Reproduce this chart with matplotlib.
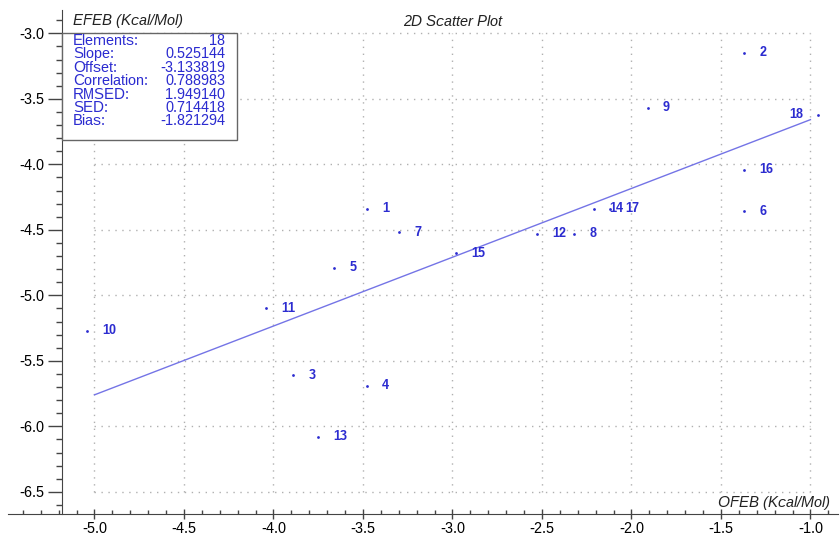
import numpy as np
import matplotlib.pyplot as plt
from matplotlib.patches import Rectangle

plt.rcParams['font.family'] = ['Liberation Sans', 'DejaVu Sans']
plt.rcParams['text.hinting'] = 'native'
plt.rcParams['text.hinting_factor'] = 1

# point ids and values
ids = ['1', '2', '3', '4', '5', '6', '7', '8', '9', '10', '11', '12', '13', '14', '15', '16', '17', '18']
ofeb = [-3.48, -1.37, -3.89, -3.48, -3.66, -1.37, -3.30, -2.32, -1.91, -5.04, -4.04, -2.53, -3.75, -2.21, -2.98, -1.37, -2.12, -0.96]
efeb = [-4.34, -3.15, -5.61, -5.69, -4.79, -4.36, -4.52, -4.53, -3.57, -5.27, -5.10, -4.53, -6.08, -4.34, -4.68, -4.04, -4.34, -3.62]

stat_names = ['Elements:', 'Slope:', 'Offset:', 'Correlation:', 'RMSED:', 'SED:', 'Bias:']
stat_values = ['18', '0.525144', '-3.133819', '0.788983', '1.949140', '0.714418', '-1.821294']
slope = 0.525144
offset = -3.133819

xticks = [-5.0, -4.5, -4.0, -3.5, -3.0, -2.5, -2.0, -1.5, -1.0]
yticks = [-3.0, -3.5, -4.0, -4.5, -5.0, -5.5, -6.0, -6.5]

W, H = 840, 534
blue = '#2c2cd0'
line_blue = '#7474e6'


def px(x, y):
    return x / W, 1 - y / H


fig = plt.figure(figsize=(W / 100, H / 100), dpi=100)
ax = fig.add_axes([8 / W, 20 / H, 830 / W, 504 / H])
ax.set_xlim(-5.483, -0.846)
ax.set_ylim(-6.669, -2.822)

# dotted grid only inside the tick range
ax.vlines(xticks, yticks[-1], yticks[0], colors='#b0b0b0', linestyles=(0, (1, 4)), linewidth=1)
ax.hlines(yticks, xticks[0], xticks[-1], colors='#b0b0b0', linestyles=(0, (1, 4)), linewidth=1)

# regression line
lx = np.array([-5.0, -1.0])
ax.plot(lx, slope * lx + offset, color=line_blue, linewidth=1)

ax.scatter(ofeb, efeb, s=4, color=blue, zorder=3, linewidths=0)
for i, x, y in zip(ids, ofeb, efeb):
    if i == '18':
        ax.annotate(i, (x, y), xytext=(-10, 0), textcoords='offset points',
                    va='center', ha='right', color=blue, fontsize=9.5, fontweight='bold')
    else:
        ax.annotate(i, (x, y), xytext=(11, 0), textcoords='offset points',
                    va='center', ha='left', color=blue, fontsize=9.5, fontweight='bold')

for s in ['top', 'right', 'left', 'bottom']:
    ax.spines[s].set_visible(False)
ax.spines['left'].set_visible(True)
ax.spines['left'].set_position(('data', -5.18))
ax.spines['bottom'].set_visible(True)
ax.spines['left'].set_color('#444444')
ax.spines['bottom'].set_color('#444444')

ax.set_xticks(xticks)
ax.set_yticks(yticks)
ax.set_xticklabels([f'{t:.1f}' for t in xticks])
ax.set_yticklabels([f'{t:.1f}' for t in yticks])
ax.set_xticks(np.arange(-5.4, -0.85, 0.1), minor=True)
ax.set_yticks(np.arange(-6.6, -2.85, 0.1), minor=True)
ax.tick_params(axis='y', which='major', direction='out', length=10, width=1, labelsize=11, color='#444444', pad=3)
ax.tick_params(axis='y', which='minor', direction='out', length=4, width=1, color='#444444')
ax.tick_params(axis='x', which='major', direction='inout', length=7, width=1, labelsize=11, color='#444444', pad=2)
ax.tick_params(axis='x', which='minor', direction='in', length=3, width=1, color='#444444')

# stats box
box_l, box_t = px(62, 33)
box_r, box_b = px(237, 140)
fig.patches.append(Rectangle((box_l, box_b), box_r - box_l, box_t - box_b, transform=fig.transFigure,
                             facecolor='white', edgecolor='#666666', linewidth=1, zorder=5))
for k, (name, val) in enumerate(zip(stat_names, stat_values)):
    yy = 41 + k * 13.4
    fig.text(*px(73, yy), name, color=blue, fontsize=10.5, va='center', ha='left', zorder=6)
    fig.text(*px(225, yy), val, color=blue, fontsize=10.5, va='center', ha='right', zorder=6)

fig.text(*px(453, 22), '2D Scatter Plot', fontsize=10.5, style='italic', ha='center', va='center', color='#222222')
fig.text(*px(73, 21), 'EFEB (Kcal/Mol)', fontsize=10.5, style='italic', ha='left', va='center', color='#222222')
fig.text(*px(830, 503), 'OFEB (Kcal/Mol)', fontsize=10.5, style='italic', ha='right', va='center', color='#222222')

fig.savefig('out.png', dpi=100)
